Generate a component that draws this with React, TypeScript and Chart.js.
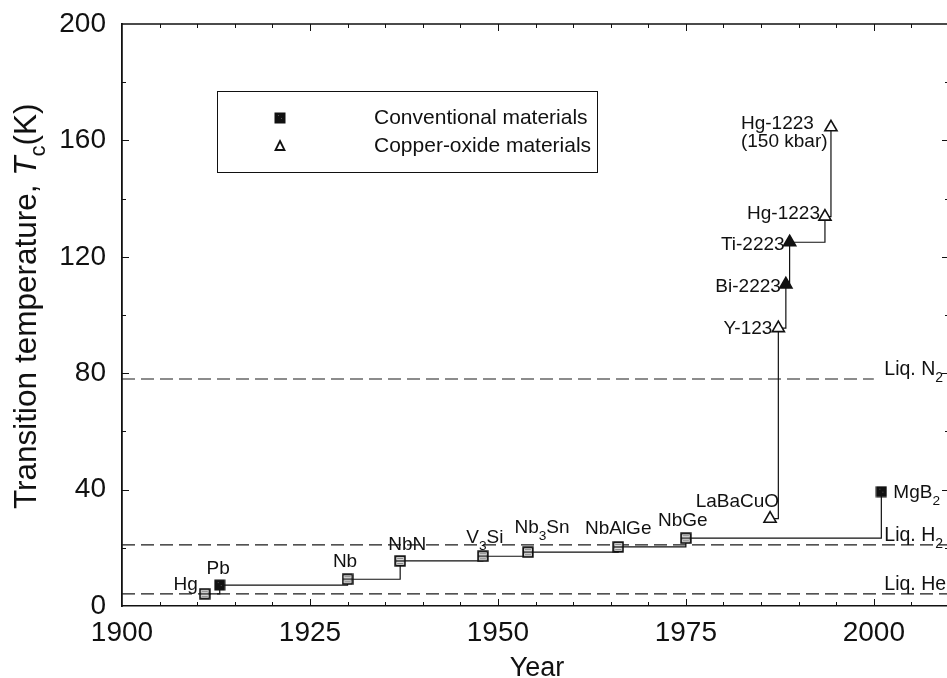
import React, { useEffect, useRef } from 'react';
import { Chart, registerables } from 'chart.js';

Chart.register(...registerables);

// ---------- data ----------
const conventionalYears = [1911, 1913, 1930, 1937, 1948, 1954, 1966, 1975, 2001];
const conventionalTc = [4.2, 7.2, 9.2, 15.5, 17.1, 18.5, 20.3, 23.3, 39.3];
const conventionalNames = ['Hg', 'Pb', 'Nb', 'NbN', 'V_3Si', 'Nb_3Sn', 'NbAlGe', 'NbGe', 'MgB_2'];
const conventionalFilled = [false, true, false, false, false, false, false, false, true];

const cuprateYears = [1986.2, 1987.3, 1988.3, 1988.8, 1993.5, 1994.3];
const cuprateTc = [30, 95.5, 110.5, 125, 133.8, 164.5];
const cuprateNames = ['LaBaCuO', 'Y-123', 'Bi-2223', 'Ti-2223', 'Hg-1223', 'Hg-1223\n(150 kbar)'];
const cuprateFilled = [false, false, true, true, false, false];

const refNames = ['Liq. N_2', 'Liq. H_2', 'Liq. He'];
const refTemps = [78, 21, 4.2];
const refEnds = [2000, 2010, 2010];
const refLabelYear = 2001.4;

const seriesNames = ['Conventional materials', 'Copper-oxide materials'];
const xTitle = 'Year';
const yTitleParts = ['Transition temperature, ', 'T', 'c', '(K)'];

const xMin = 1900;
const xMax = 2010;
const xStep = 25;
const yMin = 0;
const yMax = 200;
const yStep = 40;

// ---------- label placement (style) ----------
type Place = { dx: number; dy: number; align: 'left' | 'right' | 'center' };
const conventionalPlace: Place[] = [
  { dx: -7, dy: -4, align: 'right' },
  { dx: -1.5, dy: -11, align: 'center' },
  { dx: -2.5, dy: -12, align: 'center' },
  { dx: 7, dy: -11, align: 'center' },
  { dx: 2, dy: -13, align: 'center' },
  { dx: 14, dy: -19, align: 'center' },
  { dx: 0, dy: -13, align: 'center' },
  { dx: -3, dy: -12, align: 'center' },
  { dx: 12, dy: 6, align: 'left' },
];
const cupratePlace: Place[] = [
  { dx: 9, dy: -12, align: 'right' },
  { dx: -6, dy: 6, align: 'right' },
  { dx: -5, dy: 8, align: 'right' },
  { dx: -5, dy: 8, align: 'right' },
  { dx: -5, dy: 2, align: 'right' },
  { dx: -90, dy: 2, align: 'left' },
];

const FONT = '"Liberation Sans", Arial, Helvetica, sans-serif';
const INK = '#111';

function parseRich(s: string) {
  const segs: { t: string; sub: boolean }[] = [];
  let buf = '';
  for (let i = 0; i < s.length; i++) {
    if (s[i] === '_' && i + 1 < s.length) {
      if (buf) segs.push({ t: buf, sub: false });
      buf = '';
      segs.push({ t: s[i + 1], sub: true });
      i++;
    } else buf += s[i];
  }
  if (buf) segs.push({ t: buf, sub: false });
  return segs;
}

function drawRich(ctx: CanvasRenderingContext2D, s: string, x: number, y: number, align: string, size: number) {
  const segs = parseRich(s);
  const sub = size * 0.72;
  ctx.textAlign = 'left';
  ctx.textBaseline = 'alphabetic';
  const widths = segs.map((sg) => {
    ctx.font = `${sg.sub ? sub : size}px ${FONT}`;
    return ctx.measureText(sg.t).width;
  });
  const total = widths.reduce((a, b) => a + b, 0);
  let cx = align === 'left' ? x : align === 'right' ? x - total : x - total / 2;
  segs.forEach((sg, i) => {
    ctx.font = `${sg.sub ? sub : size}px ${FONT}`;
    ctx.fillText(sg.t, cx, sg.sub ? y + size * 0.38 : y);
    cx += widths[i];
  });
}

function makeSquare(filled: boolean) {
  const c = document.createElement('canvas');
  c.width = 12;
  c.height = 12;
  const g = c.getContext('2d')!;
  if (filled) {
    g.fillStyle = '#111';
    g.fillRect(0.5, 0.5, 11, 11);
    g.fillStyle = '#555';
    g.fillRect(4, 3, 1, 1);
    g.fillRect(7, 6, 1, 1);
  } else {
    g.fillStyle = '#e6e6e6';
    g.fillRect(1, 1, 10, 10);
    g.strokeStyle = '#111';
    g.lineWidth = 1.8;
    g.strokeRect(1.2, 1.2, 9.6, 9.6);
    g.lineWidth = 1.3;
    g.beginPath();
    g.moveTo(2, 6);
    g.lineTo(10, 6);
    g.stroke();
    g.strokeStyle = '#888';
    g.lineWidth = 1;
    g.beginPath();
    g.moveTo(3, 3.5);
    g.lineTo(9, 3.5);
    g.moveTo(3, 8.5);
    g.lineTo(9, 8.5);
    g.stroke();
  }
  return c;
}

export default function App() {
  const ref = useRef<HTMLCanvasElement | null>(null);

  useEffect(() => {
    const canvas = ref.current!;
    const openSq = makeSquare(false);
    const fillSq = makeSquare(true);

    const conventionalData = conventionalYears.map((x, i) => ({ x, y: conventionalTc[i] }));
    const cuprateData = cuprateYears.map((x, i) => ({ x, y: cuprateTc[i] }));

    const refDatasets = refTemps.map((t, i) => ({
      label: refNames[i],
      data: [
        { x: xMin, y: t },
        { x: refEnds[i], y: t },
      ],
      showLine: true,
      borderColor: '#1a1a1a',
      borderWidth: 1.2,
      borderDash: [13, 6],
      pointRadius: 0,
      fill: false,
    }));

    const overlay = {
      id: 'overlay',
      afterDatasetsDraw(chart: any) {
        const ctx: CanvasRenderingContext2D = chart.ctx;
        const xs = chart.scales.x;
        const ys = chart.scales.y;
        const ca = chart.chartArea;
        ctx.save();
        ctx.fillStyle = INK;
        ctx.strokeStyle = INK;

        // top & right border
        ctx.lineWidth = 1.3;
        ctx.beginPath();
        ctx.moveTo(ca.left, ca.top);
        ctx.lineTo(ca.right, ca.top);
        ctx.moveTo(ca.right, ca.top);
        ctx.lineTo(ca.right, ca.bottom);
        ctx.stroke();

        // inward ticks
        ctx.lineWidth = 1;
        ctx.beginPath();
        for (let v = xMin + 5; v < xMax; v += 5) {
          const px = Math.round(xs.getPixelForValue(v)) + 0.5;
          const len = v % 25 === 0 ? 7 : 4;
          ctx.moveTo(px, ca.bottom);
          ctx.lineTo(px, ca.bottom - len);
          ctx.moveTo(px, ca.top);
          ctx.lineTo(px, ca.top + len);
        }
        for (let v = yMin + 20; v < yMax; v += 20) {
          const py = Math.round(ys.getPixelForValue(v)) + 0.5;
          const len = v % 40 === 0 ? 7 : 4;
          ctx.moveTo(ca.left, py);
          ctx.lineTo(ca.left + len, py);
          ctx.moveTo(ca.right, py);
          ctx.lineTo(ca.right - len, py);
        }
        ctx.stroke();

        // point labels
        const labelSize = 19;
        const drawLabels = (years: number[], tcs: number[], names: string[], place: Place[]) => {
          names.forEach((nm, i) => {
            const px = xs.getPixelForValue(years[i]);
            const py = ys.getPixelForValue(tcs[i]);
            const p = place[i];
            nm.split('\n').forEach((line, li) => {
              drawRich(ctx, line, px + p.dx, py + p.dy + li * 18, p.align, labelSize);
            });
          });
        };
        drawLabels(conventionalYears, conventionalTc, conventionalNames, conventionalPlace);
        drawLabels(cuprateYears, cuprateTc, cuprateNames, cupratePlace);

        // reference line labels
        refNames.forEach((nm, i) => {
          const px = xs.getPixelForValue(refLabelYear);
          const py = ys.getPixelForValue(refTemps[i]);
          drawRich(ctx, nm, px, py - 4, 'left', 19.5);
        });

        // legend
        ctx.lineWidth = 1;
        ctx.strokeRect(217.5, 91.5, 380, 81);
        ctx.drawImage(fillSq, 280 - 6, 118 - 6);
        ctx.beginPath();
        ctx.moveTo(280, 141);
        ctx.lineTo(284.5, 150);
        ctx.lineTo(275.5, 150);
        ctx.closePath();
        ctx.fillStyle = '#fff';
        ctx.fill();
        ctx.lineWidth = 1.8;
        ctx.stroke();
        ctx.fillStyle = INK;
        ctx.font = `21px ${FONT}`;
        ctx.textAlign = 'left';
        ctx.textBaseline = 'middle';
        ctx.fillText(seriesNames[0], 374, 118);
        ctx.fillText(seriesNames[1], 374, 146);

        // axis titles
        ctx.font = `27px ${FONT}`;
        ctx.textAlign = 'center';
        ctx.textBaseline = 'alphabetic';
        ctx.fillText(xTitle, 537, 676);

        ctx.save();
        ctx.translate(36, 509);
        ctx.rotate(-Math.PI / 2);
        ctx.textAlign = 'left';
        let cx = 0;
        const size = 31.5;
        ctx.font = `${size}px ${FONT}`;
        ctx.fillText(yTitleParts[0], cx, 0);
        cx += ctx.measureText(yTitleParts[0]).width;
        ctx.font = `italic ${size}px ${FONT}`;
        ctx.fillText(yTitleParts[1], cx, 0);
        cx += ctx.measureText(yTitleParts[1]).width;
        ctx.font = `${size * 0.7}px ${FONT}`;
        ctx.fillText(yTitleParts[2], cx, size * 0.3);
        cx += ctx.measureText(yTitleParts[2]).width;
        ctx.font = `${size}px ${FONT}`;
        ctx.fillText(yTitleParts[3], cx, 0);
        ctx.restore();

        ctx.restore();
      },
    };

    const chart = new Chart(canvas, {
      type: 'scatter',
      data: {
        datasets: [
          {
            label: seriesNames[0],
            data: conventionalData,
            showLine: true,
            stepped: true,
            borderColor: INK,
            borderWidth: 1.2,
            pointStyle: conventionalFilled.map((f) => (f ? fillSq : openSq)),
            pointRadius: 6,
            pointHoverRadius: 6,
            backgroundColor: INK,
          } as any,
          {
            label: seriesNames[1],
            data: cuprateData,
            showLine: true,
            stepped: true,
            borderColor: INK,
            borderWidth: 1.2,
            pointStyle: 'triangle',
            pointRadius: 7,
            pointHoverRadius: 7,
            pointBorderWidth: 1.6,
            pointBorderColor: INK,
            pointBackgroundColor: cuprateFilled.map((f) => (f ? INK : '#fff')),
          } as any,
          ...refDatasets,
        ],
      },
      options: {
        animation: false,
        responsive: false,
        devicePixelRatio: 1,
        layout: { autoPadding: false, padding: { top: 24, left: 0, right: 0, bottom: 0 } },
        plugins: {
          legend: { display: false },
          tooltip: { enabled: false },
        },
        scales: {
          x: {
            type: 'linear',
            min: xMin,
            max: xMax,
            grid: { display: false, drawTicks: false },
            border: { display: true, color: INK, width: 1.5 },
            ticks: {
              stepSize: xStep,
              includeBounds: false,
              padding: 10,
              color: INK,
              font: { family: FONT, size: 28, lineHeight: 1.2 },
              maxRotation: 0,
              autoSkip: false,
              callback: (v: any) => String(v),
            },
            afterFit: (s: any) => {
              s.height = 72;
              s.paddingLeft = 0;
              s.paddingRight = 0;
            },
          },
          y: {
            type: 'linear',
            min: yMin,
            max: yMax,
            grid: { display: false, drawTicks: false },
            border: { display: true, color: INK, width: 1.8 },
            ticks: {
              stepSize: yStep,
              padding: 16,
              color: INK,
              font: { family: FONT, size: 28 },
              autoSkip: false,
            },
            afterFit: (s: any) => {
              s.width = 122;
              s.paddingTop = 0;
              s.paddingBottom = 0;
            },
          },
        },
      } as any,
      plugins: [overlay],
    });

    return () => chart.destroy();
  }, []);

  return (
    <div style={{ position: 'fixed', left: 0, top: 0, width: 947, height: 678, overflow: 'hidden', background: '#fff' }}>
      <canvas ref={ref} width={949} height={678} style={{ width: 949, height: 678, display: 'block' }} />
    </div>
  );
}
